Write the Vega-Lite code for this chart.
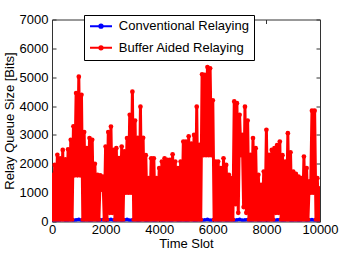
{
  "$schema": "https://vega.github.io/schema/vega-lite/v6.json",
  "width": 268,
  "height": 202,
  "autosize": "none",
  "padding": {"left": 52, "top": 19.5, "right": 33, "bottom": 31.5},
  "background": "white",
  "config": {
    "view": {"stroke": null},
    "font": "Liberation Sans",
    "axis": {
      "labelFont": "Liberation Sans", "labelFontSize": 13, "labelColor": "black",
      "titleFont": "Liberation Sans", "titleFontSize": 13, "titleFontWeight": "normal", "titleColor": "black",
      "domainColor": "#333333", "tickColor": "#333333", "tickSize": -4, "grid": false,
      "format": "d", "labelOverlap": false, "labelFlush": false
    },
    "legend": {
      "labelFont": "Liberation Sans", "labelFontSize": 13, "labelColor": "black",
      "symbolType": "M-2,0H2M-0.3,0A0.3,0.3,0,1,1,0.3,0A0.3,0.3,0,1,1,-0.3,0",
      "symbolSize": 121, "symbolStrokeWidth": 2, "symbolOffset": 5.85, "labelOffset": 11.35,
      "padding": 4.65, "rowPadding": 7.7, "fillColor": "white", "strokeColor": "black", "cornerRadius": 0
    }
  },
  "datasets": {
    "conv": [
      {"slot":0,"bits":50},{"slot":100,"bits":60},{"slot":200,"bits":40},{"slot":300,"bits":55},{"slot":400,"bits":65},{"slot":500,"bits":45},{"slot":600,"bits":50},{"slot":700,"bits":60},{"slot":800,"bits":40},{"slot":900,"bits":55},
      {"slot":1000,"bits":65},{"slot":1100,"bits":45},{"slot":1200,"bits":50},{"slot":1300,"bits":60},{"slot":1400,"bits":40},{"slot":1500,"bits":55},{"slot":1600,"bits":65},{"slot":1700,"bits":45},{"slot":1800,"bits":50},{"slot":1900,"bits":60},
      {"slot":2000,"bits":40},{"slot":2100,"bits":55},{"slot":2200,"bits":65},{"slot":2300,"bits":45},{"slot":2400,"bits":50},{"slot":2500,"bits":60},{"slot":2600,"bits":40},{"slot":2700,"bits":55},{"slot":2800,"bits":65},{"slot":2900,"bits":45},
      {"slot":3000,"bits":50},{"slot":3100,"bits":60},{"slot":3200,"bits":40},{"slot":3300,"bits":55},{"slot":3400,"bits":65},{"slot":3500,"bits":45},{"slot":3600,"bits":50},{"slot":3700,"bits":60},{"slot":3800,"bits":40},{"slot":3900,"bits":55},
      {"slot":4000,"bits":65},{"slot":4100,"bits":45},{"slot":4200,"bits":50},{"slot":4300,"bits":60},{"slot":4400,"bits":40},{"slot":4500,"bits":55},{"slot":4600,"bits":65},{"slot":4700,"bits":45},{"slot":4800,"bits":50},{"slot":4900,"bits":60},
      {"slot":5000,"bits":40},{"slot":5100,"bits":55},{"slot":5200,"bits":65},{"slot":5300,"bits":45},{"slot":5400,"bits":50},{"slot":5500,"bits":60},{"slot":5600,"bits":40},{"slot":5700,"bits":55},{"slot":5800,"bits":65},{"slot":5900,"bits":45},
      {"slot":6000,"bits":50},{"slot":6100,"bits":60},{"slot":6200,"bits":40},{"slot":6300,"bits":55},{"slot":6400,"bits":65},{"slot":6500,"bits":45},{"slot":6600,"bits":50},{"slot":6700,"bits":60},{"slot":6800,"bits":40},{"slot":6900,"bits":55},
      {"slot":7000,"bits":65},{"slot":7100,"bits":45},{"slot":7200,"bits":50},{"slot":7300,"bits":60},{"slot":7400,"bits":40},{"slot":7500,"bits":55},{"slot":7600,"bits":65},{"slot":7700,"bits":45},{"slot":7800,"bits":50},{"slot":7900,"bits":60},
      {"slot":8000,"bits":40},{"slot":8100,"bits":55},{"slot":8200,"bits":65},{"slot":8300,"bits":45},{"slot":8400,"bits":50},{"slot":8500,"bits":60},{"slot":8600,"bits":40},{"slot":8700,"bits":55},{"slot":8800,"bits":65},{"slot":8900,"bits":45},
      {"slot":9000,"bits":50},{"slot":9100,"bits":60},{"slot":9200,"bits":40},{"slot":9300,"bits":55},{"slot":9400,"bits":65},{"slot":9500,"bits":45},{"slot":9600,"bits":50},{"slot":9700,"bits":60},{"slot":9800,"bits":40},{"slot":9900,"bits":55},
      {"slot":10000,"bits":50}
    ],
    "buf": [
      {"slot":0,"bits":1620},{"slot":50,"bits":60},{"slot":100,"bits":1960},{"slot":150,"bits":60},{"slot":200,"bits":2310},{"slot":250,"bits":60},{"slot":300,"bits":2190},{"slot":350,"bits":60},{"slot":400,"bits":2480},{"slot":450,"bits":60},
      {"slot":500,"bits":2150},{"slot":550,"bits":60},{"slot":600,"bits":2500},{"slot":650,"bits":60},{"slot":700,"bits":2830},{"slot":750,"bits":60},{"slot":800,"bits":3300},{"slot":850,"bits":1600},{"slot":900,"bits":4450},{"slot":950,"bits":1600},
      {"slot":1000,"bits":5020},{"slot":1050,"bits":1600},{"slot":1100,"bits":4390},{"slot":1150,"bits":60},{"slot":1200,"bits":3100},{"slot":1250,"bits":60},{"slot":1300,"bits":2540},{"slot":1350,"bits":60},{"slot":1400,"bits":2890},{"slot":1450,"bits":60},
      {"slot":1500,"bits":2830},{"slot":1550,"bits":60},{"slot":1600,"bits":2000},{"slot":1650,"bits":60},{"slot":1700,"bits":1620},{"slot":1750,"bits":60},{"slot":1800,"bits":1600},{"slot":1850,"bits":1100},{"slot":1900,"bits":1560},{"slot":1950,"bits":60},
      {"slot":2000,"bits":2600},{"slot":2050,"bits":60},{"slot":2100,"bits":3100},{"slot":2150,"bits":300},{"slot":2200,"bits":3290},{"slot":2250,"bits":300},{"slot":2300,"bits":2480},{"slot":2350,"bits":60},{"slot":2400,"bits":2540},{"slot":2450,"bits":60},
      {"slot":2500,"bits":2200},{"slot":2550,"bits":60},{"slot":2600,"bits":2600},{"slot":2650,"bits":60},{"slot":2700,"bits":2430},{"slot":2750,"bits":1000},{"slot":2800,"bits":2890},{"slot":2850,"bits":1000},{"slot":2900,"bits":3700},{"slot":2950,"bits":1000},
      {"slot":3000,"bits":4500},{"slot":3050,"bits":60},{"slot":3100,"bits":3500},{"slot":3150,"bits":60},{"slot":3200,"bits":2900},{"slot":3250,"bits":60},{"slot":3300,"bits":3980},{"slot":3350,"bits":60},{"slot":3400,"bits":2900},{"slot":3450,"bits":60},
      {"slot":3500,"bits":2300},{"slot":3550,"bits":60},{"slot":3600,"bits":1500},{"slot":3650,"bits":60},{"slot":3700,"bits":2190},{"slot":3750,"bits":60},{"slot":3800,"bits":2190},{"slot":3850,"bits":60},{"slot":3900,"bits":1500},{"slot":3950,"bits":60},
      {"slot":4000,"bits":1850},{"slot":4050,"bits":60},{"slot":4100,"bits":2080},{"slot":4150,"bits":60},{"slot":4200,"bits":2190},{"slot":4250,"bits":60},{"slot":4300,"bits":2140},{"slot":4350,"bits":60},{"slot":4400,"bits":2140},{"slot":4450,"bits":60},
      {"slot":4500,"bits":2330},{"slot":4550,"bits":60},{"slot":4600,"bits":2080},{"slot":4650,"bits":60},{"slot":4700,"bits":1850},{"slot":4750,"bits":60},{"slot":4800,"bits":2080},{"slot":4850,"bits":60},{"slot":4900,"bits":2770},{"slot":4950,"bits":60},
      {"slot":5000,"bits":2770},{"slot":5050,"bits":60},{"slot":5100,"bits":2950},{"slot":5150,"bits":60},{"slot":5200,"bits":2700},{"slot":5250,"bits":60},{"slot":5300,"bits":3000},{"slot":5350,"bits":60},{"slot":5400,"bits":3980},{"slot":5450,"bits":60},
      {"slot":5500,"bits":2660},{"slot":5550,"bits":60},{"slot":5600,"bits":5100},{"slot":5650,"bits":2300},{"slot":5700,"bits":5080},{"slot":5750,"bits":2300},{"slot":5800,"bits":5350},{"slot":5850,"bits":2300},{"slot":5900,"bits":5310},{"slot":5950,"bits":2300},
      {"slot":6000,"bits":4200},{"slot":6050,"bits":60},{"slot":6100,"bits":2080},{"slot":6150,"bits":60},{"slot":6200,"bits":2080},{"slot":6250,"bits":60},{"slot":6300,"bits":1850},{"slot":6350,"bits":60},{"slot":6400,"bits":2190},{"slot":6450,"bits":60},
      {"slot":6500,"bits":1960},{"slot":6550,"bits":60},{"slot":6600,"bits":1620},{"slot":6650,"bits":60},{"slot":6700,"bits":1500},{"slot":6750,"bits":60},{"slot":6800,"bits":4160},{"slot":6850,"bits":600},{"slot":6900,"bits":4100},{"slot":6950,"bits":300},
      {"slot":7000,"bits":3700},{"slot":7050,"bits":2300},{"slot":7100,"bits":3000},{"slot":7150,"bits":500},{"slot":7200,"bits":3980},{"slot":7250,"bits":300},{"slot":7300,"bits":3500},{"slot":7350,"bits":60},{"slot":7400,"bits":2310},{"slot":7450,"bits":60},
      {"slot":7500,"bits":2890},{"slot":7550,"bits":60},{"slot":7600,"bits":2540},{"slot":7650,"bits":60},{"slot":7700,"bits":1620},{"slot":7750,"bits":60},{"slot":7800,"bits":1270},{"slot":7850,"bits":60},{"slot":7900,"bits":1730},{"slot":7950,"bits":60},
      {"slot":8000,"bits":3180},{"slot":8050,"bits":60},{"slot":8100,"bits":2310},{"slot":8150,"bits":60},{"slot":8200,"bits":2480},{"slot":8250,"bits":60},{"slot":8300,"bits":2540},{"slot":8350,"bits":300},{"slot":8400,"bits":2650},{"slot":8450,"bits":300},
      {"slot":8500,"bits":2770},{"slot":8550,"bits":60},{"slot":8600,"bits":2300},{"slot":8650,"bits":60},{"slot":8700,"bits":2080},{"slot":8750,"bits":60},{"slot":8800,"bits":3060},{"slot":8850,"bits":60},{"slot":8900,"bits":2400},{"slot":8950,"bits":60},
      {"slot":9000,"bits":1730},{"slot":9050,"bits":60},{"slot":9100,"bits":1650},{"slot":9150,"bits":60},{"slot":9200,"bits":1560},{"slot":9250,"bits":60},{"slot":9300,"bits":1500},{"slot":9350,"bits":60},{"slot":9400,"bits":2250},{"slot":9450,"bits":60},
      {"slot":9500,"bits":1850},{"slot":9550,"bits":60},{"slot":9600,"bits":1390},{"slot":9650,"bits":1000},{"slot":9700,"bits":3840},{"slot":9750,"bits":1000},{"slot":9800,"bits":3840},{"slot":9850,"bits":60},{"slot":9900,"bits":1500},{"slot":9950,"bits":60},
      {"slot":10000,"bits":1150}
    ]
  },
  "layer": [
    {
      "data": {"name": "conv"},
      "mark": {"type": "line", "strokeWidth": 2.5, "clip": true, "point": {"filled": true, "size": 16, "clip": true}},
      "encoding": {
        "x": {"field": "slot", "type": "quantitative", "scale": {"domain": [0, 10000], "nice": false},
              "axis": {"orient": "bottom", "values": [0, 2000, 4000, 6000, 8000, 10000], "title": "Time Slot", "labelPadding": 6, "titlePadding": 1}},
        "y": {"field": "bits", "type": "quantitative", "scale": {"domain": [0, 7000], "nice": false},
              "axis": {"orient": "left", "values": [0, 1000, 2000, 3000, 4000, 5000, 6000, 7000], "title": "Relay Queue Size [Bits]", "labelPadding": 8, "titlePadding": 3}},
        "color": {"datum": "Conventional Relaying", "type": "nominal",
                  "scale": {"domain": ["Conventional Relaying", "Buffer Aided Relaying"], "range": ["#0000ff", "#ff0000"]},
                  "legend": {"title": null, "orient": "none", "legendX": 32, "legendY": -4.5,
                             "encode": {"symbols": {"update": {"fill": {"scale": "color", "field": "value"}, "stroke": {"scale": "color", "field": "value"}}}}}}
      }
    },
    {
      "data": {"name": "buf"},
      "mark": {"type": "line", "strokeWidth": 3, "clip": true, "point": {"filled": true, "size": 22, "clip": true}},
      "encoding": {
        "x": {"field": "slot", "type": "quantitative",
              "axis": {"orient": "top", "values": [0, 2000, 4000, 6000, 8000, 10000], "labels": false, "title": null}},
        "y": {"field": "bits", "type": "quantitative",
              "axis": {"orient": "right", "values": [0, 1000, 2000, 3000, 4000, 5000, 6000, 7000], "labels": false, "title": null}},
        "color": {"datum": "Buffer Aided Relaying", "type": "nominal"}
      }
    }
  ],
  "resolve": {"axis": {"x": "independent", "y": "independent"}}
}
